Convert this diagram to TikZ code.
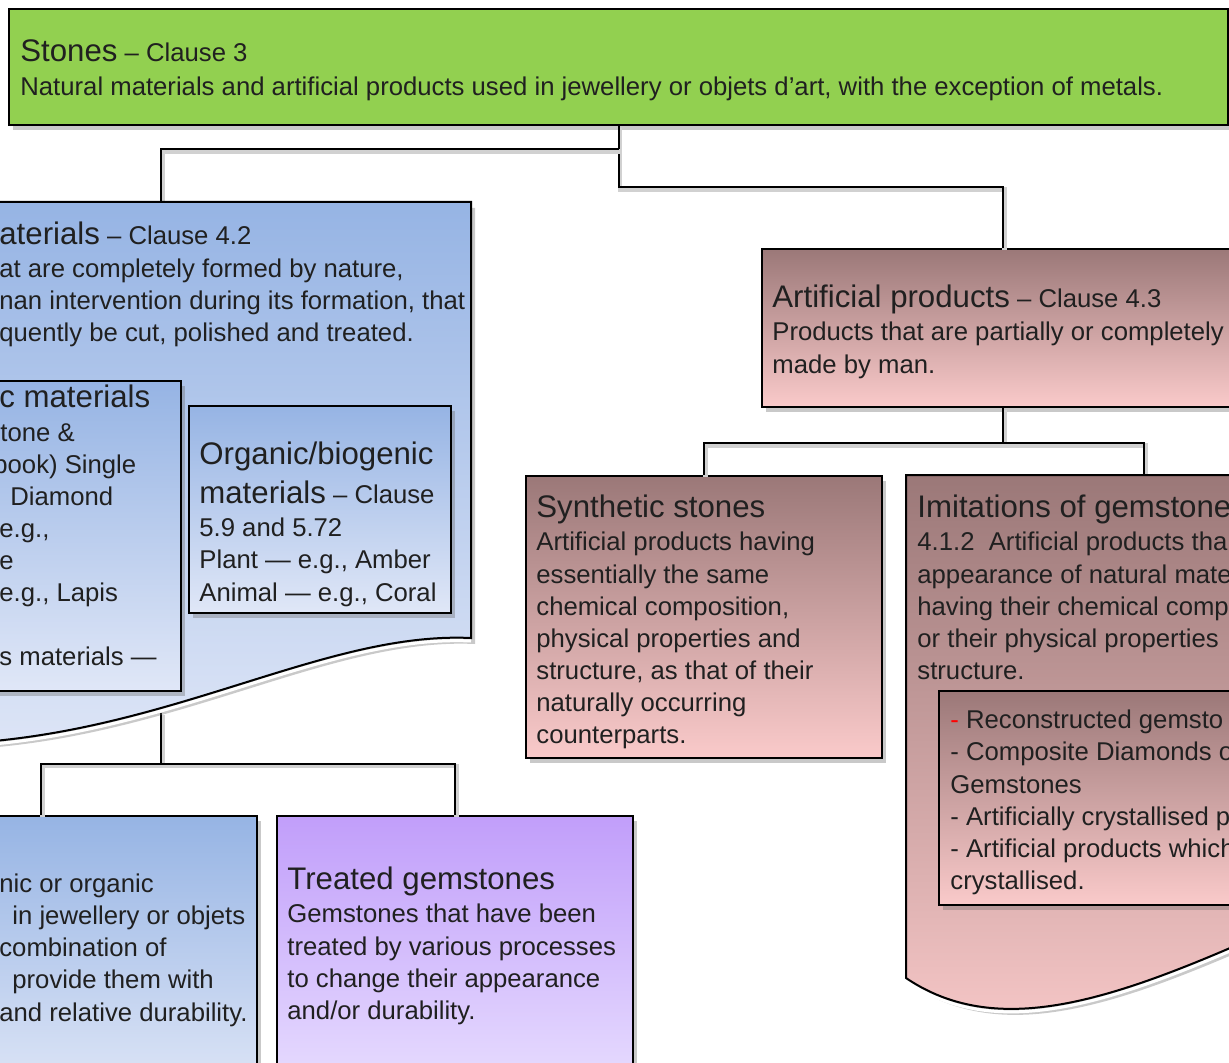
\documentclass[tikz,border=0pt]{standalone}
\usepackage{fontspec}
\setmainfont{Liberation Sans}
\usetikzlibrary{calc,shadows}
\definecolor{gfill}{RGB}{146,208,80}
\definecolor{bluetop}{RGB}{150,180,228}
\definecolor{bluebot}{RGB}{224,231,247}
\definecolor{pinktop}{RGB}{155,120,120}
\definecolor{pinkbot}{RGB}{250,202,202}
\definecolor{purptop}{RGB}{193,158,250}
\definecolor{purpbot}{RGB}{233,224,255}
\definecolor{ink}{RGB}{32,32,32}
\newcommand\bodyf{\fontsize{12.85pt}{16pt}\selectfont}
\newcommand\titf{\fontsize{15.6pt}{18pt}\selectfont}
\newcommand\tline[4]{\node[txt] (#1) at (#2,#3) {#4};}
\tikzset{
  box/.style={draw=black, line width=1pt, inner sep=0pt, anchor=north west,
    drop shadow={shadow xshift=2pt, shadow yshift=-2.5pt, opacity=.35, fill=black!60}},
  bluebox/.style={top color=bluetop, bottom color=bluebot},
  pinkbox/.style={top color=pinktop, bottom color=pinkbot},
  purplebox/.style={top color=purptop, bottom color=purpbot},
  ghost/.style={inner sep=0pt, anchor=north west},
  txt/.style={anchor=base west, inner sep=0pt, font=\bodyf, text=ink},
  conn/.style={draw=black, line width=1pt,
    preaction={draw=black!18, line width=2.2pt, transform canvas={xshift=0.8pt, yshift=-1.2pt}}},
  waveshadow/.style={fill=black!60, opacity=.35},
}
\begin{document}
\begin{tikzpicture}[x=0.5pt, y=-0.5pt]
\useasboundingbox (0,0) rectangle (1229,1063);
\fill[white] (0,0) rectangle (1229,1063);
\clip (0,0) rectangle (1229,1063);

% ---------- boxes that connectors attach to
\node[ghost, minimum width=310pt, minimum height=255pt] (natural) at (-149,202) {};
\node[ghost, minimum width=238pt, minimum height=250pt] (imitations) at (906,475) {};
\node[box, fill=gfill, minimum width=609.5pt, minimum height=58pt] (stones) at (8,8) {};
\node[box, pinkbox, minimum width=241pt, minimum height=79pt] (artificial) at (761,248) {};
\node[box, pinkbox, minimum width=178pt, minimum height=141pt] (synthetic) at (525,475) {};
\node[box, bluebox, minimum width=216pt, minimum height=142.5pt] (gem) at (-176,815) {};
\node[box, purplebox, minimum width=178pt, minimum height=142.5pt] (treated) at (276,815) {};

% ---------- connectors
\draw[conn] (stones.south) -- ($(stones.south)+(0,61)$) -| (artificial.north);
\draw[conn] (natural.north) |- ($(stones.south)+(0,23)$);
\draw[conn] (artificial.south) -- ($(artificial.south)+(0,35)$) -| (synthetic.north);
\draw[conn] (imitations.north) |- ($(artificial.south)+(0,35)$);
\draw[conn] (natural.south) -- ($(natural.south)+(0,51)$) -| (gem.north);
\draw[conn] (treated.north) |- ($(natural.south)+(0,51)$);

% ---------- Natural materials (document shape)
\path[waveshadow, shift={(4,6)}] (-149,202) -- (471,202) -- (471,638)
  .. controls (300,630) and (120,770) .. (-149,740) -- cycle;
\draw[white, line width=1.5pt, shift={(0,3)}] (471,638) .. controls (300,630) and (120,770) .. (-149,740);
\shade[bluebox, draw=black, line width=1pt] (-149,202) -- (471,202) -- (471,638)
  .. controls (300,630) and (120,770) .. (-149,740) -- cycle;

% ---------- Imitations (document shape)
\path[waveshadow, shift={(4,6)}] (906,475) -- (1382,475) -- (1382,880)
  .. controls (1170,975) and (1020,1055) .. (906,978) -- cycle;
\draw[white, line width=1.5pt, shift={(0,3)}] (1382,880) .. controls (1170,975) and (1020,1055) .. (906,978);
\shade[pinkbox, draw=black, line width=1pt] (906,475) -- (1382,475) -- (1382,880)
  .. controls (1170,975) and (1020,1055) .. (906,978) -- cycle;

% ---------- inner boxes
\node[box, bluebox, minimum width=150pt, minimum height=155pt] (inorganic) at (-120,380) {};
\node[box, bluebox, minimum width=131pt, minimum height=103.5pt] (organic) at (188,405) {};
\node[box, pinkbox, minimum width=211pt, minimum height=107pt] (imitlist) at (938,690) {};

% ---------- texts
\tline{s1}{20}{62}{{\titf Stones} – Clause 3}
\tline{s2}{20}{96}{Natural materials and artificial products used in jewellery or objets d’art, with the exception of metals.}

\tline{n1}{-1}{245}{{\titf aterials} – Clause 4.2}
\tline{n2}{-1}{278}{at are completely formed by nature,}
\tline{n3}{-1}{310}{nan intervention during its formation, that}
\tline{n4}{-1}{342}{quently be cut, polished and treated.}

\tline{i1}{-1}{408}{{\titf c materials}}
\tline{i2}{0}{441}{tone \&}
\tline{i3}{-7}{473}{book) Single}
\tline{i4}{10}{505}{Diamond}
\tline{i5}{-1}{537}{e.g.,}
\tline{i6}{-1}{569}{e}
\tline{i7}{-1}{601}{e.g., Lapis}
\tline{i8}{-1}{665}{s materials —}

\tline{o1}{199}{464}{{\titf Organic/biogenic}}
\tline{o2}{199}{503}{{\titf materials} – Clause}
\tline{o3}{199}{536}{5.9 and 5.72}
\tline{o4}{199}{568}{Plant — e.g., Amber}
\tline{o5}{199}{601}{Animal — e.g., Coral}

\tline{g1}{-1}{892}{nic or organic}
\tline{g2}{12}{924}{in jewellery or objets}
\tline{g3}{-1}{956}{combination of}
\tline{g4}{12}{988}{provide them with}
\tline{g5}{-1}{1021}{and relative durability.}

\tline{t1}{287}{889}{{\titf Treated gemstones}}
\tline{t2}{287}{922}{Gemstones that have been}
\tline{t3}{287}{955}{treated by various processes}
\tline{t4}{287}{987}{to change their appearance}
\tline{t5}{287}{1019}{and/or durability.}

\tline{a1}{772}{308}{{\titf Artificial products} – Clause 4.3}
\tline{a2}{772}{341}{Products that are partially or completely}
\tline{a3}{772}{373}{made by man.}

\tline{y1}{536}{517}{{\titf Synthetic stones}}
\tline{y2}{536}{550}{Artificial products having}
\tline{y3}{536}{583}{essentially the same}
\tline{y4}{536}{615}{chemical composition,}
\tline{y5}{536}{647}{physical properties and}
\tline{y6}{536}{679}{structure, as that of their}
\tline{y7}{536}{711}{naturally occurring}
\tline{y8}{536}{743}{counterparts.}

\tline{m1}{917}{517}{{\titf Imitations of gemstone}}
\tline{m2}{917}{550}{4.1.2~~Artificial products tha}
\tline{m3}{917}{583}{appearance of natural mate}
\tline{m4}{917}{615}{having their chemical comp}
\tline{m5}{917}{647}{or their physical properties}
\tline{m6}{917}{679}{structure.}

\tline{l1}{950}{728}{{\color{red}-} Reconstructed gemsto}
\tline{l2}{950}{760}{- Composite Diamonds o}
\tline{l3}{950}{793}{Gemstones}
\tline{l4}{950}{825}{- Artificially crystallised p}
\tline{l5}{950}{857}{- Artificial products which}
\tline{l6}{950}{889}{crystallised.}
\end{tikzpicture}
\end{document}
